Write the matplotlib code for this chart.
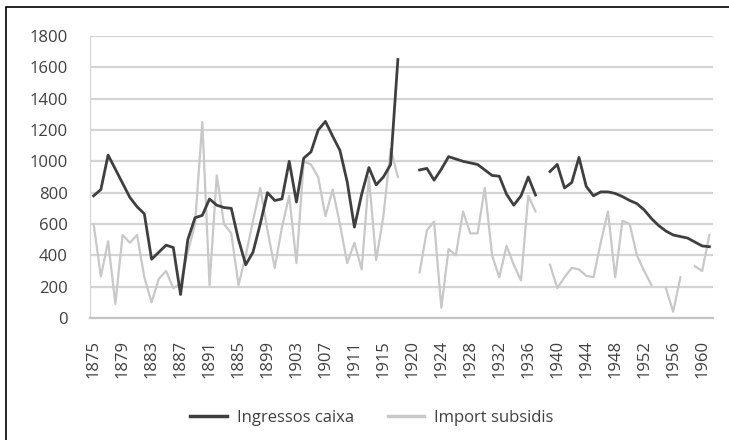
import numpy as np
import matplotlib
matplotlib.use("Agg")
import matplotlib.pyplot as plt
from matplotlib.patches import Rectangle

plt.rcParams['font.family'] = ['Open Sans', 'DejaVu Sans']

# one category per year in the series, labels every 4th one (as printed in the source)
tick_labels = ['1875', '1879', '1883', '1887', '1891', '1885', '1899', '1903',
               '1907', '1911', '1915', '1920', '1924', '1928', '1932', '1936',
               '1940', '1944', '1948', '1952', '1956', '1960']

ingressos = [780, 820, 1040, 950, 860, 770, 710, 665, 375, 420,
             465, 450, 150, 500, 640, 655, 760, 720, 705, 700,
             500, 340, 420, 600, 800, 750, 760, 1000, 740, 1020,
             1060, 1200, 1255, 1160, 1070, 870, 580, 790, 960, 850,
             900, 980, 1650, None, None, 945, 955, 880, 950, 1030,
             1015, 1000, 990, 980, 945, 910, 905, 790, 720, 780,
             900, 785, None, 935, 980, 830, 865, 1025, 840, 780,
             805, 805, 795, 775, 750, 730, 690, 635, 590, 555,
             530, 520, 510, 485, 460, 455]

subsidis = [600, 265, 490, 90, 530, 480, 530, 260, 100, 250,
            300, 190, 220, 420, 600, 1250, 210, 910, 600, 540,
            210, 400, 620, 830, 560, 320, 580, 780, 350, 1000,
            980, 900, 650, 820, 600, 350, 480, 310, 900, 370,
            650, 1080, 900, None, None, 290, 560, 615, 65, 440,
            400, 680, 540, 540, 830, 400, 260, 460, 340, 240,
            780, 680, None, 340, 190, 260, 320, 310, 270, 260,
            480, 680, 260, 620, 600, 400, 300, 210, None, 190,
            40, 260, None, 330, 300, 530]

ing = np.array([np.nan if v is None else v for v in ingressos], dtype=float)
sub = np.array([np.nan if v is None else v for v in subsidis], dtype=float)
x = np.arange(len(ing))

fig = plt.figure(figsize=(7.29, 4.40), dpi=100)
ax = fig.add_axes([90/729, 1-318/440, (713-90)/729, (318-36)/440])

ax.plot(x, sub, color='#c8c8c8', lw=1.6, label='Import subsidis', zorder=3)
ax.plot(x, ing, color='#3f3f3f', lw=2.0, label='Ingressos caixa', zorder=4)

ax.set_xlim(-0.5, len(x) - 0.5)
ax.set_ylim(0, 1800)
ax.set_yticks(np.arange(0, 1801, 200))
ax.yaxis.grid(True, color='#d4d4d4', lw=1.6)
ax.set_axisbelow(True)

ax.set_xticks(x[::4])
ax.set_xticklabels(tick_labels, rotation=90)

for s in ['top', 'right']:
    ax.spines[s].set_visible(False)
ax.spines['left'].set_color('#d4d4d4')
ax.spines['bottom'].set_color('#c4c4c4')
ax.spines['bottom'].set_linewidth(1.6)
ax.tick_params(axis='both', length=0, labelsize=12, labelcolor='#404040')
ax.tick_params(axis='y', pad=16)
ax.tick_params(axis='x', pad=16)

h, l = ax.get_legend_handles_labels()
leg = fig.legend(h[::-1], l[::-1], loc='center', bbox_to_anchor=(372/729, 1-418/440),
                 ncol=2, frameon=False, fontsize=12, handlelength=2.2,
                 handletextpad=0.6, columnspacing=2.0)
for t in leg.get_texts():
    t.set_color('#404040')
for ln in leg.get_lines():
    ln.set_linewidth(2.5)

# outer frame, cut off at right and bottom like the source scan
fig.patches.append(Rectangle((6/729, -0.1), 1.2, 1 - 7/440 + 0.1, transform=fig.transFigure,
                             fill=False, edgecolor='black', lw=1.2))

fig.savefig('out.png', dpi=100)
